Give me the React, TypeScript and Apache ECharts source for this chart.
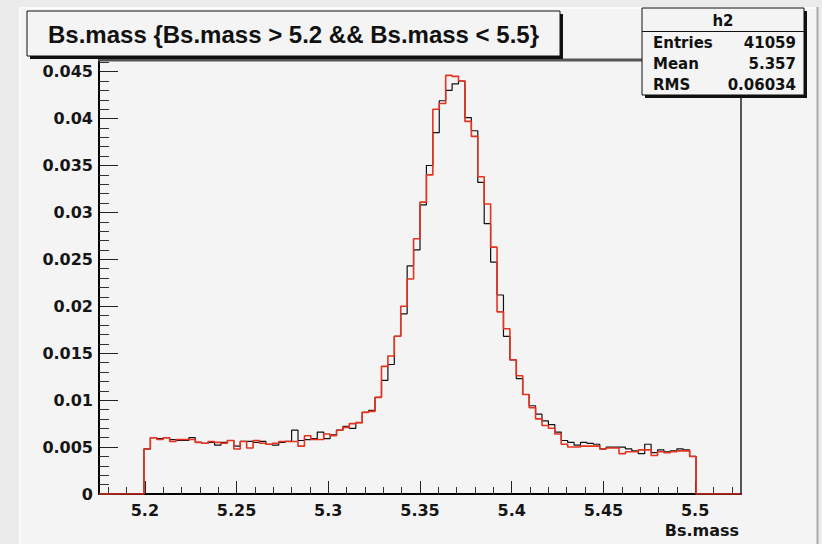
import React, { useEffect, useRef } from "react";
import * as echarts from "echarts";

// ---- axis / binning definition ----
const X_MIN = 5.175;
const X_MAX = 5.525;
const BIN_WIDTH = 0.0035;
const N_BINS = 100;
const FIRST_FILLED_BIN = 7;
const Y_MAX = 0.04624;

const xTickValues = [5.2, 5.25, 5.3, 5.35, 5.4, 5.45, 5.5];
const xTickLabels = ["5.2", "5.25", "5.3", "5.35", "5.4", "5.45", "5.5"];
const yTickValues = [0, 0.005, 0.01, 0.015, 0.02, 0.025, 0.03, 0.035, 0.04, 0.045];
const yTickLabels = ["0", "0.005", "0.01", "0.015", "0.02", "0.025", "0.03", "0.035", "0.04", "0.045"];

// ---- histogram contents (bins 7..92) ----
const blackValues = [
  0.0048, 0.0060, 0.0059, 0.0060, 0.0058, 0.0057, 0.0057, 0.0060, 0.0055, 0.0054,
  0.0055, 0.0052, 0.0055, 0.0057, 0.0051, 0.0056, 0.0056, 0.0055, 0.0056, 0.0053,
  0.0052, 0.0055, 0.0056, 0.0068, 0.0057, 0.0058, 0.0059, 0.0066, 0.0059, 0.0063,
  0.0068, 0.0072, 0.0070, 0.0076, 0.0087, 0.0089, 0.0103, 0.0121, 0.0138, 0.0168,
  0.0192, 0.0243, 0.0260, 0.0308, 0.0350, 0.0385, 0.0419, 0.0430, 0.0437, 0.0440,
  0.0401, 0.0387, 0.0332, 0.0288, 0.0247, 0.0212, 0.0168, 0.0143, 0.0123, 0.0106,
  0.0094, 0.0085, 0.0078, 0.0074, 0.0066, 0.0057, 0.0055, 0.0052, 0.0055, 0.0054,
  0.0053, 0.0048, 0.0050, 0.0050, 0.0050, 0.0048, 0.0046, 0.0043, 0.0053, 0.0044,
  0.0047, 0.0045, 0.0046, 0.0048, 0.0047, 0.0040,
];
const redValues = [
  0.0048, 0.0060, 0.0058, 0.0060, 0.0056, 0.0058, 0.0058, 0.0058, 0.0055, 0.0054,
  0.0056, 0.0055, 0.0054, 0.0057, 0.0048, 0.0056, 0.0049, 0.0057, 0.0054, 0.0053,
  0.0054, 0.0056, 0.0056, 0.0056, 0.0051, 0.0062, 0.0058, 0.0058, 0.0064, 0.0062,
  0.0068, 0.0071, 0.0075, 0.0076, 0.0087, 0.0088, 0.0103, 0.0136, 0.0147, 0.0168,
  0.0200, 0.0229, 0.0272, 0.0311, 0.0340, 0.0410, 0.0416, 0.0446, 0.0445, 0.0440,
  0.0397, 0.0381, 0.0338, 0.0309, 0.0263, 0.0194, 0.0176, 0.0143, 0.0126, 0.0106,
  0.0092, 0.0080, 0.0073, 0.0070, 0.0064, 0.0053, 0.0050, 0.0050, 0.0051, 0.0051,
  0.0051, 0.0048, 0.0049, 0.0049, 0.0043, 0.0045, 0.0045, 0.0047, 0.0047, 0.0041,
  0.0045, 0.0044, 0.0045, 0.0046, 0.0046, 0.0040,
];

const titleText = "Bs.mass {Bs.mass > 5.2 && Bs.mass < 5.5}";
const xAxisTitle = "Bs.mass";
const statsName = "h2";
const statsLabels = ["Entries", "Mean", "RMS"];
const statsValues = ["41059", "5.357", "0.06034"];

function histData(values: number[]) {
  const full: number[] = [];
  for (let k = 0; k < N_BINS; k++) {
    const i = k - FIRST_FILLED_BIN;
    full.push(i >= 0 && i < values.length ? values[i] : 0);
  }
  const pts: [number, number][] = full.map((v, k) => [X_MIN + k * BIN_WIDTH, v]);
  pts.push([X_MIN + N_BINS * BIN_WIDTH, full[N_BINS - 1]]);
  return pts;
}

function minorTicks(lo: number, hi: number, step: number, majorEvery: number) {
  const out: number[] = [];
  const a = Math.ceil(lo / step - 1e-9);
  const b = Math.floor(hi / step + 1e-9);
  for (let i = a; i <= b; i++) {
    if (i % majorEvery !== 0) out.push(+(i * step).toFixed(6));
  }
  return out;
}

const LABEL_FONT = '"DejaVu Sans"';
const STAT_FONT = 'bold 15px "DejaVu Sans"';

export default function App() {
  const ref = useRef<HTMLDivElement>(null);
  useEffect(() => {
    if (!ref.current) return;
    const chart = echarts.init(ref.current, undefined, { renderer: "svg" });
    const gl = 99, gr = 741, gt = 60, gb = 494;
    const axisLabelStyle = {
      fontFamily: LABEL_FONT,
      fontWeight: "bold" as const,
      fontSize: 16,
      color: "#151515",
    };
    const statsX = 642, statsY = 8, statsW = 162, statsH = 87;
    const titleX = 27, titleY = 11, titleW = 533, titleH = 45;
    chart.setOption({
      animation: false,
      backgroundColor: "#ebebeb",
      grid: { left: gl, right: 822 - gr, top: gt, bottom: 544 - gb, show: false },
      xAxis: [
        {
          type: "value",
          min: X_MIN,
          max: X_MAX,
          position: "bottom",
          splitLine: { show: false },
          axisLine: { show: true, onZero: false, lineStyle: { color: "#000", width: 2 } },
          axisTick: {
            show: true,
            inside: true,
            length: 13,
            customValues: xTickValues,
            lineStyle: { color: "#222", width: 1 },
          },
          axisLabel: {
            show: true,
            customValues: xTickValues,
            margin: 8,
            ...axisLabelStyle,
            formatter: (v: number) => {
              const i = xTickValues.findIndex((t) => Math.abs(t - v) < 1e-6);
              return i >= 0 ? xTickLabels[i] : "";
            },
          },
        },
        {
          type: "value",
          min: X_MIN,
          max: X_MAX,
          position: "bottom",
          splitLine: { show: false },
          axisLine: { show: false },
          axisLabel: { show: false },
          axisTick: {
            show: true,
            inside: true,
            length: 7,
            customValues: minorTicks(X_MIN, X_MAX, 0.01, 5),
            lineStyle: { color: "#333", width: 1 },
          },
        },
      ],
      yAxis: [
        {
          type: "value",
          min: 0,
          max: Y_MAX,
          interval: 0.005,
          position: "left",
          splitLine: { show: false },
          axisLine: { show: true, onZero: false, lineStyle: { color: "#000", width: 2 } },
          axisTick: { show: true, inside: true, length: 19, lineStyle: { color: "#222", width: 1 } },
          axisLabel: {
            show: true,
            margin: 6,
            ...axisLabelStyle,
            showMaxLabel: false,
            formatter: (v: number) => {
              const i = yTickValues.findIndex((t) => Math.abs(t - v) < 1e-7);
              return i >= 0 ? yTickLabels[i] : "";
            },
          },
        },
        {
          type: "value",
          min: 0,
          max: Y_MAX,
          position: "left",
          splitLine: { show: false },
          axisLine: { show: false },
          axisLabel: { show: false },
          axisTick: {
            show: true,
            inside: true,
            length: 10,
            customValues: minorTicks(0, Y_MAX, 0.001, 5),
            lineStyle: { color: "#333", width: 1 },
          },
        },
      ],
      series: [
        {
          type: "line",
          step: "end",
          xAxisIndex: 0,
          yAxisIndex: 0,
          data: histData(blackValues),
          symbol: "none",
          lineStyle: { color: "#111", width: 1.2 },
          z: 3,
        },
        {
          type: "line",
          step: "end",
          xAxisIndex: 0,
          yAxisIndex: 0,
          data: histData(redValues),
          symbol: "none",
          lineStyle: { color: "#e5331f", width: 1.6 },
          z: 4,
        },
      ],
      graphic: [
        // canvas
        { type: "rect", z: -10, silent: true, shape: { x: 19, y: 7, width: 799, height: 537 }, style: { fill: "#f4f4f4" } },
        { type: "line", z: -9, silent: true, shape: { x1: 20, y1: 7, x2: 20, y2: 544 }, style: { stroke: "#fbfbfb", lineWidth: 2 } },
        { type: "line", z: -9, silent: true, shape: { x1: 19, y1: 8, x2: 818, y2: 8 }, style: { stroke: "#fbfbfb", lineWidth: 2 } },
        { type: "line", z: -9, silent: true, shape: { x1: 817.5, y1: 7, x2: 817.5, y2: 544 }, style: { stroke: "#a9a9a9", lineWidth: 2 } },
        // frame top / right
        { type: "line", z: 5, silent: true, shape: { x1: gl - 1, y1: gt, x2: gr + 1, y2: gt }, style: { stroke: "#555", lineWidth: 3 } },
        { type: "line", z: 5, silent: true, shape: { x1: gr, y1: gt, x2: gr, y2: gb }, style: { stroke: "#222", lineWidth: 1.5 } },
        // title box
        { type: "rect", z: 20, silent: true, shape: { x: titleX + 3, y: titleY + 3, width: titleW, height: titleH }, style: { fill: "#111" } },
        { type: "rect", z: 21, silent: true, shape: { x: titleX, y: titleY, width: titleW, height: titleH }, style: { fill: "#f4f4f4", stroke: "#111", lineWidth: 1 } },
        {
          type: "text", z: 22, silent: true, x: titleX + titleW / 2, y: titleY + titleH / 2 + 1,
          style: { text: titleText, font: 'bold 24px "Liberation Sans"', fill: "#111", align: "center", verticalAlign: "middle", textAlign: "center", textVerticalAlign: "middle" },
        },
        // stats box
        { type: "rect", z: 20, silent: true, shape: { x: statsX + 3, y: statsY + 3, width: statsW, height: statsH }, style: { fill: "#111" } },
        { type: "rect", z: 21, silent: true, shape: { x: statsX, y: statsY, width: statsW, height: statsH }, style: { fill: "#f4f4f4", stroke: "#111", lineWidth: 1 } },
        { type: "line", z: 22, silent: true, shape: { x1: statsX, y1: 31.5, x2: statsX + statsW, y2: 31.5 }, style: { stroke: "#111", lineWidth: 1 } },
        {
          type: "text", z: 22, silent: true, x: statsX + statsW / 2, y: 21,
          style: { text: statsName, font: STAT_FONT, fill: "#111", align: "center", verticalAlign: "middle", textAlign: "center", textVerticalAlign: "middle" },
        },
        ...statsLabels.map((s, i) => ({
          type: "text", z: 22, silent: true, x: 653, y: 42.5 + i * 21.3,
          style: { text: s, font: STAT_FONT, fill: "#111", align: "left", verticalAlign: "middle", textAlign: "left", textVerticalAlign: "middle" },
        })),
        ...statsValues.map((s, i) => ({
          type: "text", z: 22, silent: true, x: 796, y: 42.5 + i * 21.3,
          style: { text: s, font: STAT_FONT, fill: "#111", align: "right", verticalAlign: "middle", textAlign: "right", textVerticalAlign: "middle" },
        })),
        // x axis title
        {
          type: "text", z: 22, silent: true, x: 739, y: 530,
          style: { text: xAxisTitle, font: 'bold 16px "DejaVu Sans"', fill: "#151515", align: "right", verticalAlign: "middle", textAlign: "right", textVerticalAlign: "middle" },
        },
      ],
    });
    return () => chart.dispose();
  }, []);
  return (
    <div
      ref={ref}
      style={{ position: "fixed", left: 0, top: 0, width: 822, height: 544 }}
    />
  );
}
